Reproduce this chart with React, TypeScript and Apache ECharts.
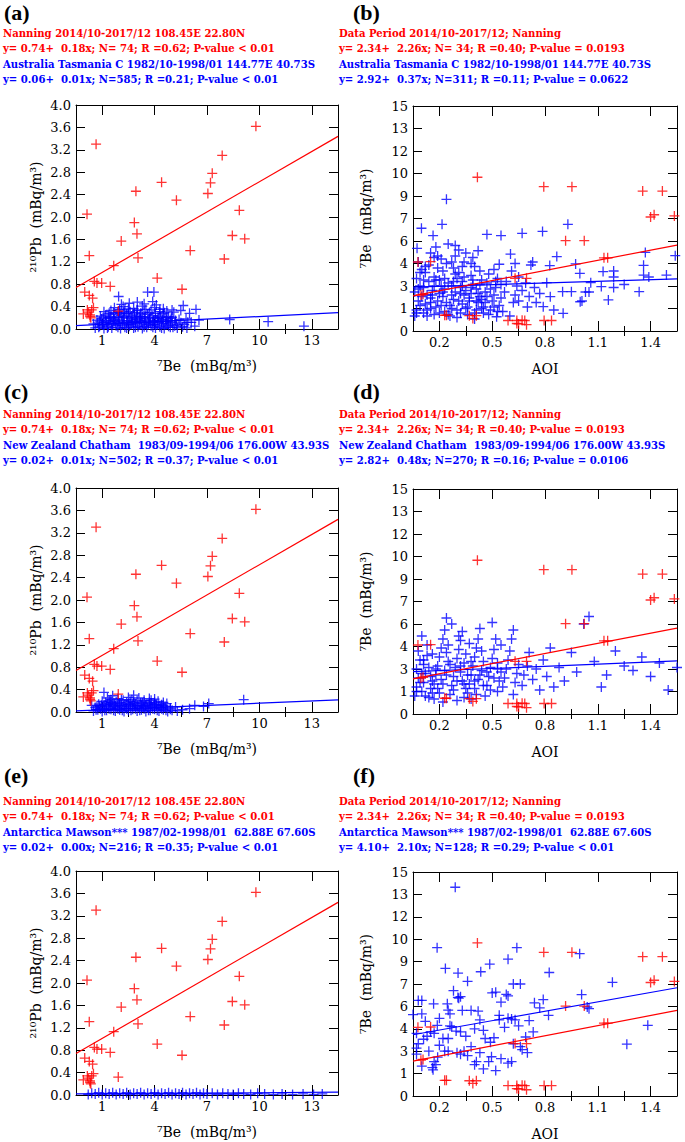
import React, { useEffect, useRef } from 'react';
import * as echarts from 'echarts';

// ---------------- DATA ----------------
// Nanning 7Be (x) vs 210Pb (y), shared by panels a, c, e
const redLeft: number[][] = [
  [0.5, 0.66], [0.63, 2.05], [0.76, 1.31], [0.76, 0.6], [1.05, 0.85], [1.15, 3.3], [1.2, 0.82], [1.47, 0.82],
  [1.96, 0.76], [2.16, 1.13], [2.59, 1.57], [3.34, 1.9], [3.43, 2.46], [3.49, 1.7], [3.55, 1.27], [4.65, 0.91],
  [4.9, 2.62], [5.75, 2.3], [6.07, 0.71], [6.54, 1.4], [7.55, 2.42], [7.7, 2.61], [7.8, 2.78], [8.37, 3.1],
  [8.49, 1.25], [8.95, 1.67], [9.35, 2.12], [9.66, 1.61], [10.3, 3.62], [0.42, 0.27], [0.65, 0.34], [0.9, 0.34],
  [0.8, 0.25], [0.81, 0.22], [2.42, 0.32], [0.95, 0.55], [0.7, 0.3], [1.0, 0.38], [0.85, 0.2],
];
// Nanning AOI (x) vs 7Be (y), shared by panels b, d, f
const redRight: number[][] = [
  [0.028, 4.6], [0.1, 4.62], [0.057, 2.45], [0.045, 2.4], [0.18, 1.05], [0.19, 1.05], [0.32, 1.02], [0.36, 1.02],
  [0.34, 0.84], [0.366, 10.25], [0.54, 0.7], [0.59, 0.7], [0.635, 0.7], [0.6, 0.47], [0.645, 0.42], [0.745, 0.7],
  [0.787, 0.7], [0.58, 3.51], [0.645, 3.51], [0.743, 9.62], [0.867, 6.02], [0.903, 9.62], [0.973, 6.02],
  [1.085, 4.88], [1.106, 4.88], [1.305, 9.33], [1.35, 7.6], [1.37, 7.75], [1.417, 9.33], [1.485, 7.67],
  [0.59, 0.5], [0.62, 0.72],
];

const blueA: number[][] = [
  [1.1, 0.02], [1.35, 0.05], [1.6, 0.01], [1.85, 0.04], [2.05, 0.02], [2.3, 0.06], [2.55, 0.01], [2.8, 0.03],
  [3.05, 0.05], [3.3, 0.02], [3.55, 0.04], [3.8, 0.01], [4.05, 0.03], [4.3, 0.06], [4.55, 0.02], [4.8, 0.04],
  [5.05, 0.01], [5.3, 0.05], [5.55, 0.03], [5.8, 0.02], [6.1, 0.04], [6.35, 0.02],
  [1.0, 0.09], [1.25, 0.11], [1.5, 0.08], [1.75, 0.12], [2.0, 0.1], [2.25, 0.13], [2.5, 0.09], [2.75, 0.11],
  [3.0, 0.08], [3.25, 0.12], [3.5, 0.1], [3.75, 0.13], [4.0, 0.09], [4.25, 0.11], [4.5, 0.08], [4.75, 0.12],
  [5.0, 0.1], [5.25, 0.09], [5.5, 0.12], [5.75, 0.08], [6.0, 0.11],
  [1.2, 0.16], [1.45, 0.18], [1.7, 0.15], [1.95, 0.19], [2.2, 0.17], [2.45, 0.16], [2.7, 0.2], [2.95, 0.15],
  [3.2, 0.18], [3.45, 0.17], [3.7, 0.19], [3.95, 0.16], [4.2, 0.18], [4.45, 0.15], [4.7, 0.19], [4.95, 0.17],
  [5.2, 0.16], [5.45, 0.19], [5.7, 0.15],
  [1.4, 0.23], [1.7, 0.25], [2.0, 0.22], [2.3, 0.26], [2.6, 0.24], [2.9, 0.27], [3.2, 0.23], [3.5, 0.25],
  [3.8, 0.22], [4.1, 0.26], [4.4, 0.24], [4.7, 0.23], [5.0, 0.27], [5.3, 0.22],
  [1.6, 0.31], [2.0, 0.33], [2.4, 0.3], [2.8, 0.34], [3.1, 0.31], [3.5, 0.33], [3.9, 0.3], [4.3, 0.34],
  [4.8, 0.31], [5.2, 0.32], [5.6, 0.3],
  [2.2, 0.38], [2.7, 0.4], [3.3, 0.37], [3.8, 0.41], [4.5, 0.38], [5.0, 0.36],
  [2.44, 0.58], [2.6, 0.44], [3.05, 0.46], [3.51, 0.48], [4.1, 0.66], [4.46, 0.66], [4.39, 0.49], [4.6, 0.43],
  [3.9, 0.45], [6.14, 0.42], [6.87, 0.35], [6.5, 0.28], [6.3, 0.18], [6.6, 0.12], [6.8, 0.05], [7.04, 0.16],
  [8.8, 0.17], [11.0, 0.13], [13.05, 0.05],
  [1.3, 0.03], [1.55, 0.07], [1.8, 0.02], [2.1, 0.08], [2.4, 0.03], [2.65, 0.07], [2.9, 0.02], [3.15, 0.08],
  [3.4, 0.03], [3.65, 0.07], [3.9, 0.04], [4.15, 0.08], [4.4, 0.03], [4.65, 0.07], [4.9, 0.02], [5.15, 0.07],
  [5.4, 0.03], [5.65, 0.06],
  [1.35, 0.14], [1.6, 0.12], [1.9, 0.14], [2.15, 0.15], [2.4, 0.12], [2.65, 0.14], [2.9, 0.12], [3.15, 0.14],
  [3.4, 0.13], [3.65, 0.15], [3.9, 0.12], [4.15, 0.14], [4.4, 0.12], [4.65, 0.15], [4.9, 0.13], [5.15, 0.13],
  [5.4, 0.15],
  [1.55, 0.2], [1.85, 0.21], [2.15, 0.2], [2.45, 0.21], [2.75, 0.22], [3.05, 0.2], [3.35, 0.21], [3.65, 0.22],
  [3.95, 0.2], [4.25, 0.21], [4.55, 0.2], [4.85, 0.21], [5.15, 0.2], [5.5, 0.21],
  [1.9, 0.28], [2.15, 0.29], [2.5, 0.28], [2.75, 0.3], [3.0, 0.28], [3.35, 0.29], [3.7, 0.28], [4.2, 0.29],
  [4.55, 0.28], [5.05, 0.29],
  [2.5, 0.35], [3.0, 0.36], [3.5, 0.34], [4.0, 0.35], [4.8, 0.35], [5.5, 0.34], [6.0, 0.33], [6.2, 0.08],
  [6.4, 0.12], [5.9, 0.17],
];

const blueB: number[][] = [
  [0.01, 1.0], [0.02, 1.4], [0.03, 2.0], [0.01, 2.6], [0.04, 3.0], [0.02, 3.5], [0.05, 4.1], [0.03, 4.6],
  [0.023, 5.51], [0.048, 6.85], [0.06, 1.2], [0.07, 1.8], [0.08, 2.4], [0.06, 2.9], [0.09, 3.3], [0.07, 3.9],
  [0.09, 4.4], [0.08, 1.0], [0.1, 1.5], [0.1, 2.2],
  [0.11, 2.7], [0.12, 3.6], [0.114, 6.36], [0.13, 5.6], [0.14, 5.0], [0.12, 1.1], [0.13, 1.6], [0.14, 2.0],
  [0.15, 2.5], [0.16, 3.0], [0.15, 3.4], [0.17, 4.0], [0.165, 7.11], [0.19, 8.78], [0.18, 1.3], [0.19, 1.9],
  [0.17, 2.3], [0.18, 2.8], [0.2, 3.2], [0.19, 4.5], [0.16, 4.8], [0.2, 5.8],
  [0.21, 1.0], [0.22, 1.5], [0.23, 2.1], [0.24, 2.6], [0.22, 3.0], [0.25, 3.5], [0.23, 4.2], [0.24, 5.0],
  [0.26, 5.4], [0.27, 1.2], [0.28, 1.8], [0.29, 2.4], [0.27, 2.9], [0.28, 3.3], [0.26, 3.9], [0.29, 4.6],
  [0.3, 5.2], [0.3, 1.5], [0.3, 2.7], [0.25, 0.9],
  [0.31, 1.1], [0.32, 2.0], [0.33, 2.5], [0.34, 3.1], [0.33, 3.7], [0.35, 4.3], [0.37, 5.35], [0.36, 1.4],
  [0.37, 1.9], [0.38, 2.3], [0.36, 2.8], [0.39, 3.4], [0.38, 4.0], [0.4, 1.2], [0.4, 1.6], [0.39, 2.1],
  [0.35, 0.8], [0.34, 4.9],
  [0.42, 6.44], [0.41, 2.6], [0.42, 3.2], [0.43, 3.8], [0.44, 1.4], [0.45, 2.0], [0.46, 2.4], [0.47, 2.9],
  [0.48, 3.5], [0.49, 4.45], [0.475, 0.95], [0.5, 6.36], [0.49, 1.7], [0.46, 4.1], [0.5, 2.2], [0.5, 3.1],
  [0.51, 1.3], [0.52, 2.6], [0.53, 3.3], [0.554, 5.13], [0.56, 4.0], [0.57, 1.9], [0.58, 2.4], [0.58, 4.5],
  [0.59, 3.0], [0.6, 2.0], [0.55, 1.0], [0.6, 3.6],
  [0.62, 6.51], [0.62, 2.7], [0.64, 3.2], [0.65, 1.6], [0.66, 2.3], [0.67, 4.4], [0.68, 4.6], [0.69, 2.9],
  [0.7, 1.9], [0.72, 2.5], [0.74, 1.62], [0.736, 6.64], [0.76, 3.22], [0.777, 4.36], [0.78, 2.29], [0.8, 1.4],
  [0.817, 4.96], [0.853, 1.18], [0.85, 2.62], [0.88, 7.11], [0.9, 2.62], [0.924, 4.47], [0.948, 3.84],
  [0.95, 1.95], [0.96, 2.0], [0.98, 2.6],
  [1.01, 3.22], [1.07, 2.96], [1.08, 3.96], [1.11, 2.07], [1.14, 4.0], [1.14, 3.6], [1.14, 2.9], [1.285, 2.62],
  [1.31, 4.38], [1.31, 3.73], [1.32, 5.24], [1.34, 3.6], [1.44, 3.73], [1.49, 5.02], [1.2, 3.1], [1.0, 2.6],
  [0.02, 1.2], [0.04, 1.7], [0.05, 2.3], [0.03, 2.8], [0.06, 3.4], [0.04, 3.9], [0.07, 4.3], [0.08, 1.4],
  [0.1, 1.9], [0.11, 2.4], [0.12, 3.0], [0.13, 3.4], [0.14, 4.2], [0.15, 1.2], [0.16, 1.7], [0.17, 2.6],
  [0.18, 3.5], [0.2, 1.1], [0.21, 1.7], [0.22, 2.4], [0.23, 3.3], [0.24, 3.8], [0.25, 1.4], [0.26, 2.0],
  [0.27, 2.5], [0.28, 3.0], [0.29, 3.6], [0.31, 1.6], [0.32, 2.2], [0.33, 2.9], [0.34, 3.4], [0.35, 1.2],
  [0.36, 2.0], [0.37, 2.5], [0.38, 3.1], [0.39, 1.5], [0.41, 1.9], [0.42, 2.3], [0.43, 1.1], [0.44, 2.8],
  [0.46, 1.6], [0.47, 3.3], [0.48, 1.3], [0.28, 4.3], [0.22, 4.6], [0.12, 4.9], [0.33, 4.5], [0.24, 5.7],
  [0.1, 5.2],
];

const blueC: number[][] = [
  [1.0, 0.02], [1.25, 0.04], [1.5, 0.01], [1.75, 0.03], [2.0, 0.05], [2.25, 0.02], [2.5, 0.04], [2.75, 0.01],
  [3.0, 0.03], [3.25, 0.05], [3.5, 0.02], [3.75, 0.04], [4.0, 0.01], [4.25, 0.03], [4.5, 0.05], [4.75, 0.02],
  [5.0, 0.04], [5.25, 0.01], [5.5, 0.03], [5.8, 0.02], [6.1, 0.04],
  [1.1, 0.08], [1.35, 0.1], [1.6, 0.07], [1.85, 0.09], [2.1, 0.11], [2.35, 0.08], [2.6, 0.1], [2.85, 0.07],
  [3.1, 0.09], [3.35, 0.11], [3.6, 0.08], [3.85, 0.1], [4.1, 0.07], [4.35, 0.09], [4.6, 0.11], [4.85, 0.08],
  [5.1, 0.1], [5.4, 0.07], [5.7, 0.09],
  [1.3, 0.14], [1.6, 0.13], [1.9, 0.15], [2.2, 0.14], [2.5, 0.16], [2.8, 0.13], [3.1, 0.15], [3.4, 0.14],
  [3.7, 0.16], [4.0, 0.13], [4.3, 0.15], [4.6, 0.14], [4.9, 0.13], [5.2, 0.15],
  [1.5, 0.19], [1.9, 0.2], [2.3, 0.18], [2.7, 0.21], [3.1, 0.19], [3.5, 0.2], [3.9, 0.18], [4.3, 0.21], [4.7, 0.19],
  [1.8, 0.25], [2.4, 0.24], [3.0, 0.26], [3.6, 0.25], [4.2, 0.24], [2.1, 0.29], [3.3, 0.3],
  [1.6, 0.35], [0.9, 0.12], [6.5, 0.06], [6.8, 0.12], [7.3, 0.1], [7.6, 0.15], [9.6, 0.22],
  [1.15, 0.04], [1.4, 0.06], [1.65, 0.03], [1.9, 0.06], [2.15, 0.03], [2.4, 0.06], [2.65, 0.03], [2.9, 0.06],
  [3.15, 0.03], [3.4, 0.06], [3.65, 0.03], [3.9, 0.06], [4.15, 0.03], [4.4, 0.06], [4.65, 0.03], [4.9, 0.06],
  [5.15, 0.03], [5.4, 0.05],
  [1.2, 0.11], [1.45, 0.12], [1.75, 0.11], [2.0, 0.13], [2.25, 0.11], [2.5, 0.12], [2.75, 0.11], [3.0, 0.13],
  [3.25, 0.11], [3.5, 0.12], [3.75, 0.11], [4.0, 0.12], [4.25, 0.11], [4.5, 0.13], [4.75, 0.11], [5.0, 0.12],
  [1.7, 0.17], [2.0, 0.17], [2.4, 0.16], [2.9, 0.17], [3.3, 0.17], [3.8, 0.16], [4.2, 0.17], [4.5, 0.17], [5.0, 0.17],
  [2.0, 0.22], [2.6, 0.22], [3.2, 0.22], [3.9, 0.21], [4.5, 0.23],
];

const blueD: number[][] = [
  [0.01, 1.2], [0.02, 1.8], [0.03, 2.4], [0.02, 3.0], [0.04, 3.6], [0.03, 4.2], [0.05, 1.5], [0.06, 2.1],
  [0.07, 2.7], [0.06, 3.3], [0.08, 3.9], [0.09, 1.1], [0.1, 2.5], [0.09, 3.1], [0.08, 4.6], [0.05, 5.2],
  [0.11, 1.4], [0.12, 2.0], [0.13, 2.6], [0.14, 3.2], [0.15, 3.8], [0.16, 4.4], [0.17, 5.0], [0.18, 5.6],
  [0.19, 6.4], [0.12, 1.0], [0.14, 1.7], [0.16, 2.3], [0.18, 2.9], [0.2, 3.5], [0.19, 4.1], [0.17, 0.8],
  [0.21, 1.3], [0.22, 1.9], [0.23, 2.5], [0.24, 3.1], [0.25, 3.7], [0.26, 4.3], [0.27, 4.9], [0.28, 5.5],
  [0.22, 6.0], [0.29, 1.1], [0.3, 1.7], [0.28, 2.2], [0.27, 2.8], [0.29, 3.4], [0.3, 4.0], [0.25, 0.9],
  [0.31, 1.4], [0.32, 2.0], [0.33, 2.6], [0.34, 3.2], [0.35, 3.8], [0.36, 4.4], [0.37, 5.0], [0.38, 5.7],
  [0.33, 1.0], [0.35, 1.7], [0.37, 2.3], [0.39, 2.9], [0.4, 3.5], [0.39, 4.2],
  [0.41, 1.2], [0.42, 1.9], [0.43, 2.5], [0.44, 3.1], [0.45, 3.7], [0.46, 4.3], [0.47, 5.0], [0.45, 6.1],
  [0.48, 1.5], [0.49, 2.2], [0.5, 2.8], [0.48, 3.4], [0.5, 4.6],
  [0.51, 1.8], [0.52, 2.4], [0.53, 3.0], [0.54, 3.6], [0.55, 4.2], [0.56, 5.0], [0.57, 1.3], [0.58, 2.1],
  [0.59, 2.7], [0.6, 3.3], [0.57, 5.6],
  [0.62, 1.9], [0.63, 2.6], [0.65, 3.2], [0.66, 4.1], [0.68, 2.3], [0.7, 3.0], [0.72, 1.6], [0.74, 3.6],
  [0.76, 2.5], [0.78, 4.4], [0.8, 1.8],
  [0.83, 3.1], [0.86, 2.2], [0.9, 4.1], [0.93, 2.8], [0.97, 6.0], [1.0, 6.5], [1.03, 3.5], [1.07, 1.8],
  [1.1, 2.6], [1.15, 4.2], [1.2, 3.2], [1.25, 2.9], [1.3, 3.8], [1.35, 2.5], [1.4, 3.4], [1.45, 1.6], [1.5, 3.1],
  [0.02, 1.5], [0.04, 2.1], [0.05, 2.7], [0.06, 3.6], [0.07, 1.2], [0.1, 1.7], [0.11, 2.2], [0.13, 3.0],
  [0.15, 1.4], [0.17, 2.0], [0.19, 2.6], [0.21, 3.3], [0.23, 1.6], [0.25, 2.2], [0.27, 3.2], [0.29, 2.0],
  [0.31, 2.6], [0.33, 3.5], [0.35, 2.2], [0.36, 1.3], [0.38, 2.6], [0.4, 1.9], [0.42, 2.8], [0.44, 1.6],
  [0.46, 2.4], [0.48, 3.0], [0.2, 4.6], [0.11, 4.0], [0.32, 4.7], [0.26, 5.2],
];

const blueE: number[][] = [
  [0.7, 0.01], [0.9, 0.03], [1.1, 0.02], [1.3, 0.04], [1.5, 0.01], [1.7, 0.03], [1.9, 0.02], [2.1, 0.04],
  [2.3, 0.01], [2.5, 0.03], [2.7, 0.02], [2.9, 0.04], [3.1, 0.01], [3.3, 0.03], [3.5, 0.02], [3.7, 0.04],
  [3.9, 0.01], [4.1, 0.03], [4.3, 0.02], [4.5, 0.04], [4.7, 0.01], [4.9, 0.03], [5.1, 0.02], [5.3, 0.04],
  [5.5, 0.01], [5.7, 0.03], [5.9, 0.02], [6.1, 0.04], [6.3, 0.01], [6.5, 0.03], [6.7, 0.02], [6.9, 0.04],
  [7.1, 0.01], [7.3, 0.03], [7.5, 0.02], [7.8, 0.03], [8.1, 0.01], [8.4, 0.03], [8.7, 0.02], [9.0, 0.01],
  [9.3, 0.03], [9.6, 0.02], [10.0, 0.01], [10.4, 0.03], [10.8, 0.02], [11.3, 0.01], [11.8, 0.02], [12.4, 0.01],
  [13.0, 0.02], [13.6, 0.01], [14.1, 0.02],
];

const blueF: number[][] = [
  [0.24, 13.98], [0.137, 9.93], [0.59, 9.93], [0.54, 9.16], [0.436, 8.83], [0.184, 8.54], [0.385, 8.32],
  [0.256, 8.23], [0.31, 7.68], [0.774, 8.27], [0.947, 9.53], [1.133, 7.61], [0.57, 7.5], [0.61, 7.5],
  [0.23, 7.05], [0.255, 6.6], [0.27, 6.65], [0.26, 6.55], [0.45, 6.9], [0.47, 6.95], [0.53, 6.8], [0.54, 6.7],
  [0.5, 6.28], [0.958, 6.79], [0.74, 6.46], [0.69, 6.24], [0.03, 6.4], [0.05, 6.4], [0.117, 6.17], [0.195, 6.17],
  [0.2, 5.75], [0.21, 5.5], [0.28, 5.73], [0.33, 5.73], [0.37, 5.68], [0.0, 5.45], [0.05, 5.5], [0.138, 4.73],
  [0.21, 4.7], [0.22, 4.65], [0.38, 5.1], [0.49, 5.1], [0.49, 5.4], [0.54, 5.2], [0.56, 5.15], [0.58, 5.1],
  [0.77, 5.4], [0.99, 5.96], [1.0, 5.85], [1.334, 4.73], [1.215, 3.47], [0.683, 4.29], [0.64, 3.95], [0.61, 3.3],
  [0.57, 3.5], [0.56, 2.3], [0.54, 2.2], [0.62, 3.1], [0.4, 4.4], [0.41, 3.85], [0.4, 1.81], [0.446, 2.63],
  [0.36, 2.3], [0.35, 2.1], [0.31, 2.7], [0.27, 2.8], [0.29, 3.0], [0.114, 1.75], [0.11, 1.9], [0.13, 2.1],
  [0.12, 2.3], [0.05, 2.0], [0.02, 2.8], [0.02, 3.2], [0.03, 3.5], [0.18, 3.0], [0.2, 3.0], [0.17, 3.85],
  [0.2, 3.85], [0.1, 4.3], [0.12, 4.2], [0.245, 4.35], [0.27, 4.3], [0.06, 3.8], [0.08, 4.0], [0.15, 3.4],
  [0.25, 2.9], [0.33, 3.3], [0.38, 2.9], [0.44, 3.6], [0.46, 3.9], [0.47, 1.7], [0.3, 4.0], [0.35, 4.5],
  [0.52, 4.6], [0.6, 4.7], [0.66, 5.05], [0.72, 5.9], [0.02, 4.2], [0.07, 5.0], [0.15, 5.2], [0.09, 3.0],
  [0.14, 2.6], [0.43, 2.3], [0.5, 2.5], [0.65, 2.9],
];

// regression lines [intercept, slope]
const fitRedLeft = [0.74, 0.18];
const fitRedRight = [2.34, 2.26];
const fitA = [0.06, 0.0155];
const fitB = [2.92, 0.37];
const fitC = [0.02, 0.013];
const fitD = [2.82, 0.48];
const fitE = [0.02, 0.002];
const fitF = [4.1, 2.1];

// tick values and labels
const leftXMajor = [1.5, 4.5, 7.5, 10.5, 13.5];
const leftXLabels = ['1', '4', '7', '10', '13'];
const leftXMinor = [3, 6, 9, 12];
const leftYTicks = [0, 0.4, 0.8, 1.2, 1.6, 2.0, 2.4, 2.8, 3.2, 3.6, 4.0];
const leftYLabels = ['0.0', '0.4', '0.8', '1.2', '1.6', '2.0', '2.4', '2.8', '3.2', '3.6', '4.0'];
const rightXMajor = [0.15, 0.45, 0.75, 1.05, 1.35];
const rightXLabels = ['0.2', '0.5', '0.8', '1.1', '1.4'];
const rightXMinor = [0.3, 0.6, 0.9, 1.2];
const rightYTicks = [0, 1.5, 3, 4.5, 6, 7.5, 9, 10.5, 12, 13.5, 15];
const rightYLabels = ['0', '1', '3', '4', '6', '7', '9', '10', '12', '13', '15'];

// header texts
const NB = '\u00a0';
const headerLeftRed = ['Nanning 2014/10-2017/12 108.45E 22.80N', `y= 0.74+ ${NB}0.18x; N= 74; R =0.62; P-value < 0.01`];
const headerRightRed = ['Data Period 2014/10-2017/12; Nanning', `y= 2.34+ ${NB}2.26x; N= 34; R =0.40; P-value = 0.0193`];
const headerBlue = {
  a: ['Australia Tasmania C 1982/10-1998/01 144.77E 40.73S', `y= 0.06+ ${NB}0.01x; N=585; R =0.21; P-value < 0.01`],
  b: ['Australia Tasmania C 1982/10-1998/01 144.77E 40.73S', `y= 2.92+ ${NB}0.37x; N=311; R =0.11; P-value = 0.0622`],
  c: [`New Zealand Chatham ${NB}1983/09-1994/06 176.00W 43.93S`, `y= 0.02+ ${NB}0.01x; N=502; R =0.37; P-value < 0.01`],
  d: [`New Zealand Chatham ${NB}1983/09-1994/06 176.00W 43.93S`, `y= 2.82+ ${NB}0.48x; N=270; R =0.16; P-value = 0.0106`],
  e: [`Antarctica Mawson*** 1987/02-1998/01 ${NB}62.88E 67.60S`, `y= 0.02+ ${NB}0.00x; N=216; R =0.35; P-value < 0.01`],
  f: [`Antarctica Mawson*** 1987/02-1998/01 ${NB}62.88E 67.60S`, `y= 4.10+ ${NB}2.10x; N=128; R =0.29; P-value < 0.01`],
};

// ---------------- LAYOUT / STYLE ----------------
const RED = '#ff0000';
const BLUE = '#0000ff';
const SERIF = '"DejaVu Serif", serif';
const CROSS = 'path://M0,5L10,5M5,0L5,10';

const colLayout = [
  { left: 76, width: 262, textX: 3, letterX: 4 },
  { left: 413, width: 264, textX: 339, letterX: 353 },
];
const rowTops = [[105, 488, 871], [106, 489, 872]];
const letterY = [12, 391, 775];
const textY0 = [33, 414, 801];
const lineStep = 15.5;

const panels = [
  { id: 'a', col: 0, row: 0, blue: blueA, fit: fitA },
  { id: 'b', col: 1, row: 0, blue: blueB, fit: fitB },
  { id: 'c', col: 0, row: 1, blue: blueC, fit: fitC },
  { id: 'd', col: 1, row: 1, blue: blueD, fit: fitD },
  { id: 'e', col: 0, row: 2, blue: blueE, fit: fitE },
  { id: 'f', col: 1, row: 2, blue: blueF, fit: fitF },
];

function lookup(vals: number[], labels: string[]) {
  return (v: number) => {
    const i = vals.findIndex((m) => Math.abs(m - v) < 1e-6);
    return i >= 0 ? labels[i] : '';
  };
}

function buildOption() {
  const grid: any[] = [];
  const xAxis: any[] = [];
  const yAxis: any[] = [];
  const series: any[] = [];
  const graphic: any[] = [];

  panels.forEach((p, gi) => {
    const L = colLayout[p.col];
    const top = rowTops[p.col][p.row];
    const height = p.col === 0 ? 224 : 225;
    grid.push({ left: L.left, top, width: L.width, height, containLabel: false });

    const isL = p.col === 0;
    const xmax = isL ? 15 : 1.5;
    const xMajor = isL ? leftXMajor : rightXMajor;
    const xMinor = isL ? leftXMinor : rightXMinor;
    const xFmt = lookup(xMajor, isL ? leftXLabels : rightXLabels);
    const yTicks = isL ? leftYTicks : rightYTicks;
    const yFmt = lookup(yTicks, isL ? leftYLabels : rightYLabels);
    const ymax = isL ? 4 : 15;
    const axLine = { show: true, onZero: false, lineStyle: { color: '#000', width: 1 } };
    const tickStyle = { color: '#000', width: 1 };
    const xBase = { gridIndex: gi, type: 'value', min: 0, max: xmax, interval: isL ? 1.5 : 0.15, splitLine: { show: false } };
    const nameStyle = { fontFamily: SERIF, fontSize: 14, color: '#000' };

    xAxis.push({
      ...xBase, position: 'bottom', axisLine: axLine,
      axisTick: { show: true, inside: true, length: 10, customValues: xMajor, lineStyle: tickStyle },
      axisLabel: { show: true, customValues: xMajor, formatter: xFmt, margin: 5, fontFamily: SERIF, fontSize: 13, color: '#000' },
      name: isL ? `\u2077Be ${NB}(mBq/m\u00b3)` : 'AOI', nameLocation: 'middle', nameGap: isL ? 30 : 31, nameTextStyle: nameStyle,
    });
    xAxis.push({
      ...xBase, position: 'bottom', axisLine: { show: false },
      axisTick: { show: true, inside: true, length: 5, customValues: xMinor, lineStyle: tickStyle },
      axisLabel: { show: false },
    });
    xAxis.push({
      ...xBase, position: 'top', axisLine: axLine,
      axisTick: { show: true, inside: true, length: 10, customValues: xMajor, lineStyle: tickStyle },
      axisLabel: { show: false },
    });
    xAxis.push({
      ...xBase, position: 'top', axisLine: { show: false },
      axisTick: { show: true, inside: true, length: 5, customValues: xMinor, lineStyle: tickStyle },
      axisLabel: { show: false },
    });

    const yBase = { gridIndex: gi, type: 'value', min: 0, max: ymax, interval: isL ? 0.4 : 1.5, splitLine: { show: false } };
    yAxis.push({
      ...yBase, position: 'left', axisLine: axLine,
      axisTick: { show: true, inside: true, length: 9, lineStyle: tickStyle },
      axisLabel: { show: true, formatter: yFmt, margin: 5, fontFamily: SERIF, fontSize: 13, color: '#000' },
      name: isL ? `\u00b2\u00b9\u2070Pb ${NB}(mBq/m\u00b3)` : `\u2077Be ${NB}(mBq/m\u00b3)`,
      nameLocation: 'middle', nameGap: isL ? 33 : 40, nameTextStyle: nameStyle,
    });
    yAxis.push({
      ...yBase, position: 'right', axisLine: axLine,
      axisTick: { show: true, inside: true, length: 9, lineStyle: tickStyle },
      axisLabel: { show: false },
    });

    const xi = gi * 4;
    const yi = gi * 2;
    const red = isL ? redLeft : redRight;
    const rfit = isL ? fitRedLeft : fitRedRight;
    const scatterStyle = (c: string) => ({ color: 'rgba(0,0,0,0)', borderColor: c, borderWidth: 1.3 });
    series.push({
      type: 'scatter', xAxisIndex: xi, yAxisIndex: yi, data: p.blue, symbol: CROSS, symbolSize: 10,
      itemStyle: scatterStyle(BLUE), z: 2,
    });
    series.push({
      type: 'scatter', xAxisIndex: xi, yAxisIndex: yi, data: red, symbol: CROSS, symbolSize: 10,
      itemStyle: scatterStyle(RED), z: 3,
    });
    series.push({
      type: 'line', xAxisIndex: xi, yAxisIndex: yi, showSymbol: false, symbol: 'none', z: 4,
      data: [[0, p.fit[0]], [xmax, p.fit[0] + p.fit[1] * xmax]],
      lineStyle: { color: BLUE, width: 1.2 },
    });
    series.push({
      type: 'line', xAxisIndex: xi, yAxisIndex: yi, showSymbol: false, symbol: 'none', z: 5,
      data: [[0, rfit[0]], [xmax, rfit[0] + rfit[1] * xmax]],
      lineStyle: { color: RED, width: 1.2 },
    });

    // header
    graphic.push({
      type: 'text', x: L.letterX, y: letterY[p.row],
      style: { text: `(${p.id})`, fill: '#000', fontFamily: '"Liberation Serif", serif', fontWeight: 'bold', fontSize: 22, verticalAlign: 'middle' },
    });
    const lines = [
      ...(isL ? headerLeftRed : headerRightRed).map((t) => ({ t, c: RED })),
      ...(headerBlue as any)[p.id].map((t: string) => ({ t, c: BLUE })),
    ];
    lines.forEach((ln, k) => {
      graphic.push({
        type: 'text', x: L.textX, y: textY0[p.row] + k * lineStep,
        style: { text: ln.t, fill: ln.c, fontFamily: SERIF, fontWeight: 'bold', fontSize: 10.1, verticalAlign: 'middle' },
      });
    });
  });

  return { animation: false, backgroundColor: '#fff', grid, xAxis, yAxis, series, graphic };
}

export default function App() {
  const ref = useRef<HTMLDivElement>(null);
  useEffect(() => {
    const chart = echarts.init(ref.current!, null, { renderer: 'svg' });
    chart.setOption(buildOption() as any);
    return () => chart.dispose();
  }, []);
  return <div ref={ref} style={{ position: 'absolute', left: 0, top: 0, width: 685, height: 1142 }} />;
}
